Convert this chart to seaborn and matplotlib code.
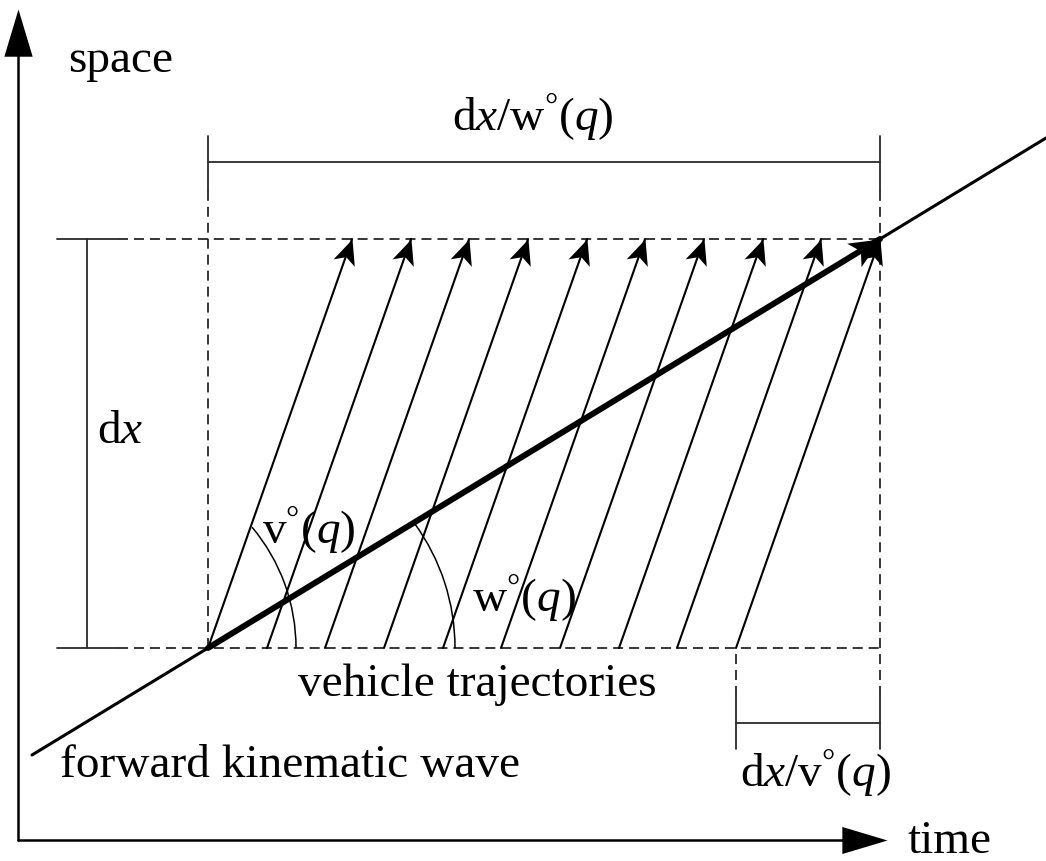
import numpy as np
import pandas as pd
import matplotlib
matplotlib.use("Agg")
import matplotlib.pyplot as plt
from matplotlib.path import Path
from matplotlib.markers import MarkerStyle
from matplotlib.transforms import Affine2D
from matplotlib.patches import Arc
import seaborn as sns

sns.set_theme(style="white")
plt.rcParams["font.family"] = ["Liberation Serif", "DejaVu Serif"]
plt.rcParams["mathtext.fontset"] = "custom"
plt.rcParams["mathtext.rm"] = "Liberation Serif"
plt.rcParams["mathtext.it"] = "Liberation Serif:italic"
plt.rcParams["lines.scale_dashes"] = False

# ---- diagram data (time t, space s) ----
space_lo, space_hi = 192, 601          # the dx band
time_axis_end, space_axis_end = 869, 831

wave_t = [14, 190, 862, 1028]          # forward kinematic wave
wave_s = [85, 192, 601, 702]

veh_start_t = [190, 249, 307, 366, 425, 483, 542, 601, 659, 718]
veh_end_t = [334, 393, 451, 510, 569, 627, 686, 745, 803, 862]

bracket_dx_t = 69                      # dx bracket
bracket_top_s = 678                    # dx/w(q) bracket
bracket_low_s = 117                    # dx/v(q) bracket

deg = r"$^{\mathrm{°}}$"
labels = {
    "space": (50, 769, "space"),
    "dxw": (434, 709, r"d$x$/w" + deg + r"($q$)"),
    "dx": (79, 398, r"d$x$"),
    "v": (244, 296, r"v" + deg + r"($q$)"),
    "w": (454, 228, r"w" + deg + r"($q$)"),
    "veh": (280, 145, "vehicle trajectories"),
    "fkw": (42, 64, "forward kinematic wave"),
    "dxv": (722, 53, r"d$x$/v" + deg + r"($q$)"),
    "time": (889, -12, "time"),
}

fig = plt.figure(figsize=(10.46, 8.62), dpi=100)
ax = fig.add_axes([0, 0, 1, 1])
ax.set_xlim(-18, 1028)
ax.set_ylim(-21, 841)
ax.axis("off")

# arrowhead shapes (tip at origin, pointing +x)
stealth = Path([(0, 0), (-1, 0.45), (-0.75, 0), (-1, -0.45), (0, 0)],
               [Path.MOVETO, Path.LINETO, Path.LINETO, Path.LINETO, Path.CLOSEPOLY])
triangle = Path([(0, 0), (-1, 0.3), (-1, -0.3), (0, 0)],
                [Path.MOVETO, Path.LINETO, Path.LINETO, Path.CLOSEPOLY])


def head(path, angle):
    return MarkerStyle(path, transform=Affine2D().rotate_deg(angle))


ink = "black"
grey = "#2a2a2a"
dash = (0, (7.2, 4.3))

# axes
ax.plot([0, 0], [0, space_axis_end - 20], color=ink, lw=1.8)
ax.plot([0, time_axis_end - 20], [0, 0], color=ink, lw=1.8)
ax.plot([0], [space_axis_end], marker=head(triangle, 90), ms=68, color=ink, mew=0)
ax.plot([time_axis_end], [0], marker=head(triangle, 0), ms=65, color=ink, mew=0)

# dashed guide lines
ax.plot([100, veh_end_t[-1]], [space_hi, space_hi], color=ink, lw=1.1, ls=dash)
ax.plot([100, veh_end_t[-1]], [space_lo, space_lo], color=ink, lw=1.1, ls=dash)
ax.plot([veh_start_t[0]] * 2, [space_lo, 649], color=ink, lw=1.1, ls=dash)
ax.plot([veh_end_t[-1]] * 2, [144, 649], color=ink, lw=1.1, ls=dash)
ax.plot([veh_start_t[-1]] * 2, [144, space_lo], color=ink, lw=1.1, ls=dash)

# brackets
ax.plot([bracket_dx_t] * 2, [space_lo, space_hi], color=grey, lw=1.3)
for s in (space_lo, space_hi):
    ax.plot([39, 100], [s, s], color=grey, lw=1.3)
ax.plot([veh_start_t[0], veh_end_t[-1]], [bracket_top_s] * 2, color=grey, lw=1.3)
for t in (veh_start_t[0], veh_end_t[-1]):
    ax.plot([t, t], [649, 704], color=grey, lw=1.3)
ax.plot([veh_start_t[-1], veh_end_t[-1]], [bracket_low_s] * 2, color=grey, lw=1.3)
for t in (veh_start_t[-1], veh_end_t[-1]):
    ax.plot([t, t], [91, 144], color=grey, lw=1.3)

# vehicle trajectories
traj = pd.DataFrame({
    "vehicle": np.repeat(np.arange(len(veh_start_t)), 2),
    "t": np.ravel(np.column_stack([veh_start_t, veh_end_t])),
    "s": np.tile([space_lo, space_hi], len(veh_start_t)),
})
sns.lineplot(data=traj, x="t", y="s", units="vehicle", estimator=None,
             color=ink, lw=1.5, ax=ax, legend=False)
veh_angle = np.degrees(np.arctan2(space_hi - space_lo, veh_end_t[0] - veh_start_t[0]))
ax.plot(veh_end_t, [space_hi] * len(veh_end_t), ls="none",
        marker=head(stealth, veh_angle), ms=36, color=ink, mew=0)

# forward kinematic wave
wave = pd.DataFrame({"t": wave_t, "s": wave_s})
sns.lineplot(data=wave, x="t", y="s", color=ink, lw=2.2, ax=ax, legend=False)
sns.lineplot(data=wave.iloc[1:3], x="t", y="s", color=ink, lw=4.3, ax=ax, legend=False)
wave_angle = np.degrees(np.arctan2(wave_s[2] - wave_s[1], wave_t[2] - wave_t[1]))
ax.plot([wave_t[2]], [wave_s[2]], marker=head(stealth, wave_angle), ms=44, color=ink, mew=0)

# speed angle arcs
ax.add_patch(Arc((90, space_lo), 376, 376, theta1=0, theta2=40, color=ink, lw=1.1))
ax.add_patch(Arc((225, space_lo), 424, 424, theta1=0, theta2=36, color=ink, lw=1.1))

# labels
for t, s, txt in labels.values():
    ax.text(t, s, txt, fontsize=34, color=ink, ha="left", va="baseline")

fig.savefig("out.png", dpi=100, facecolor="white")
